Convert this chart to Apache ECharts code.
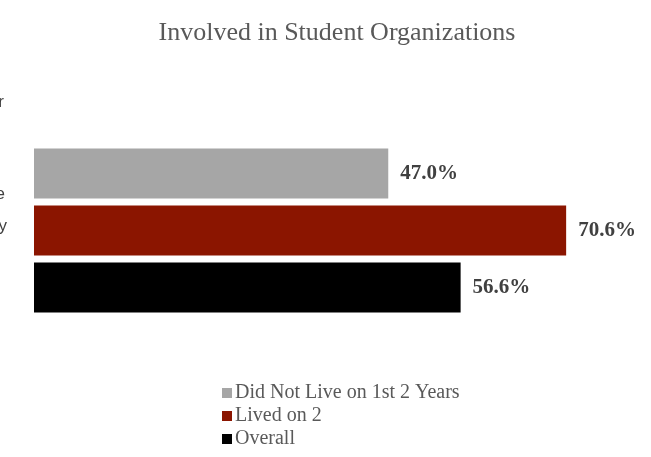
<!DOCTYPE html>
<html>
<head>
<meta charset="utf-8">
<script src="https://cdn.jsdelivr.net/npm/echarts@6/dist/echarts.min.js"></script>
<style>
  html, body { margin: 0; padding: 0; background: #ffffff; }
  #chart { width: 651px; height: 457px; }
</style>
</head>
<body>
<div id="chart"></div>
<script>
// Share of students involved in student organizations, by residence group
const categories = ['Involved in Student Organizations'];
const seriesNames = ['Did Not Live on 1st 2 Years', 'Lived on 2', 'Overall'];
const seriesValues = [[47.0], [70.6], [56.6]];
const seriesColors = ['#a6a6a6', '#8b1500', '#000000'];

const serif = '"Liberation Serif", "Times New Roman", serif';

const chart = echarts.init(document.getElementById('chart'));

const series = seriesNames.map((name, i) => ({
  name: name,
  type: 'bar',
  data: seriesValues[i],
  barWidth: 50,
  barGap: '14%',
  itemStyle: { color: seriesColors[i] },
  label: {
    show: true,
    position: 'right',
    distance: 12,
    formatter: p => p.value.toFixed(1) + '%',
    fontFamily: serif,
    fontWeight: 'bold',
    fontSize: 21,
    color: '#404040'
  }
}));

chart.setOption({
  animation: false,
  backgroundColor: '#ffffff',
  title: {
    text: 'Involved in Student Organizations',
    left: 332,
    textAlign: 'center',
    top: 15,
    textStyle: { fontFamily: serif, fontWeight: 'normal', fontSize: 26, color: '#595959' }
  },
  legend: {
    orient: 'vertical',
    left: 217,
    top: 378,
    itemWidth: 10,
    itemHeight: 10,
    itemGap: 3,
    icon: 'rect',
    textStyle: { fontFamily: serif, fontSize: 20, color: '#595959', padding: [0, 0, 0, -2] },
    data: seriesNames
  },
  grid: { left: 34, top: 148, width: 603, height: 165, containLabel: false },
  xAxis: {
    type: 'value',
    min: 0,
    max: 80,
    show: false
  },
  yAxis: {
    type: 'category',
    data: categories,
    inverse: true,
    show: false
  },
  series: series,
  graphic: [
    { type: 'text', right: 647, top: 94, style: { text: 'for', fontFamily: '"Liberation Sans", Arial, sans-serif', fontSize: 17, fill: '#404040' } },
    { type: 'text', right: 646, top: 186, style: { text: 'the', fontFamily: '"Liberation Sans", Arial, sans-serif', fontSize: 17, fill: '#404040' } },
    { type: 'text', right: 644, top: 218, style: { text: 'ity', fontFamily: '"Liberation Sans", Arial, sans-serif', fontSize: 17, fill: '#404040' } }
  ]
});
</script>
</body>
</html>
